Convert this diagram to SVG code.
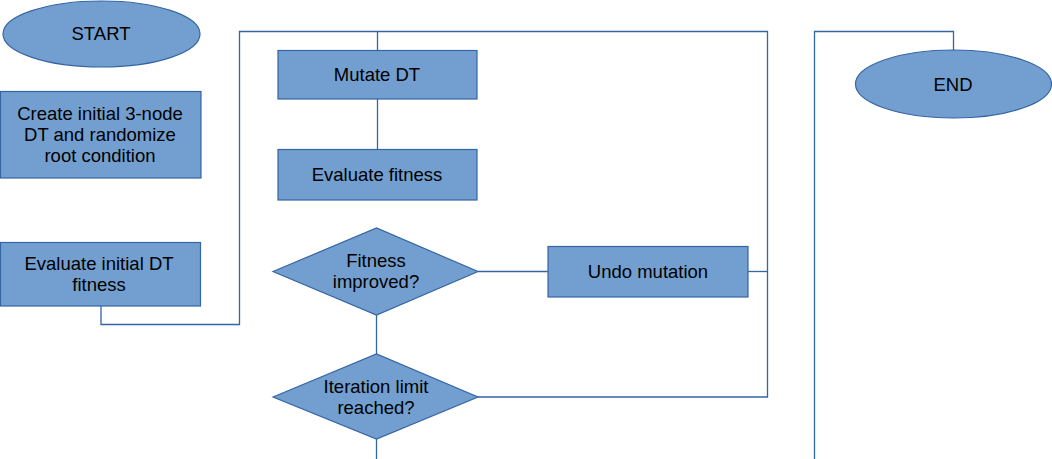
<svg xmlns="http://www.w3.org/2000/svg" width="1052" height="459" viewBox="0 0 1052 459">
<style>
.s{fill:#729fcf;stroke:#3465a4;stroke-width:1.2}
.c{fill:none;stroke:#3465a4;stroke-width:1.3}
text{font-family:"Liberation Sans",Arial,sans-serif;font-size:18.5px;fill:#000;text-anchor:middle}
</style>
<rect width="1052" height="459" fill="#fff"/>
<g id="connectors">
<path class="c" d="M101,306 V324.5 H239.5 V31.5 H767.5 V397 H478"/>
<path class="c" d="M748,271.5 H767.5"/>
<path class="c" d="M478,271.5 H548"/>
<path class="c" d="M377.5,31.5 V50"/>
<path class="c" d="M377.5,99 V149"/>
<path class="c" d="M376.5,315 V354"/>
<path class="c" d="M376.5,439 V459"/>
<path class="c" d="M814.5,459 V31.5 H953.5 V50"/>
</g>
<g id="start">
<ellipse class="s" cx="101.5" cy="34" rx="98.5" ry="33"/>
<text x="101" y="40">START</text>
</g>
<g id="create">
<rect class="s" x="0.5" y="91.5" width="200.5" height="86.5"/>
<text x="100" y="120">Create initial 3-node</text>
<text x="100" y="141">DT and randomize</text>
<text x="100" y="162">root condition</text>
</g>
<g id="evalinit">
<rect class="s" x="0.5" y="242.5" width="200" height="63.5"/>
<text x="99" y="270">Evaluate initial DT</text>
<text x="99" y="291">fitness</text>
</g>
<g id="mutate">
<rect class="s" x="278" y="50.5" width="199" height="48.5"/>
<text x="377" y="81">Mutate DT</text>
</g>
<g id="evalfit">
<rect class="s" x="278" y="149.5" width="199" height="50.5"/>
<text x="377" y="181">Evaluate fitness</text>
</g>
<g id="improved">
<polygon class="s" points="273,271.5 376.5,228 478,271.5 376.5,315"/>
<text x="376" y="267">Fitness</text>
<text x="376" y="288">improved?</text>
</g>
<g id="undo">
<rect class="s" x="548" y="246.5" width="200" height="50.5"/>
<text x="648" y="278">Undo mutation</text>
</g>
<g id="limit">
<polygon class="s" points="273,397 376.5,354 478,397 376.5,439"/>
<text x="376" y="393">Iteration limit</text>
<text x="376" y="414">reached?</text>
</g>
<g id="end">
<ellipse class="s" cx="953.5" cy="84" rx="98" ry="34"/>
<text x="953" y="91">END</text>
</g>
</svg>
